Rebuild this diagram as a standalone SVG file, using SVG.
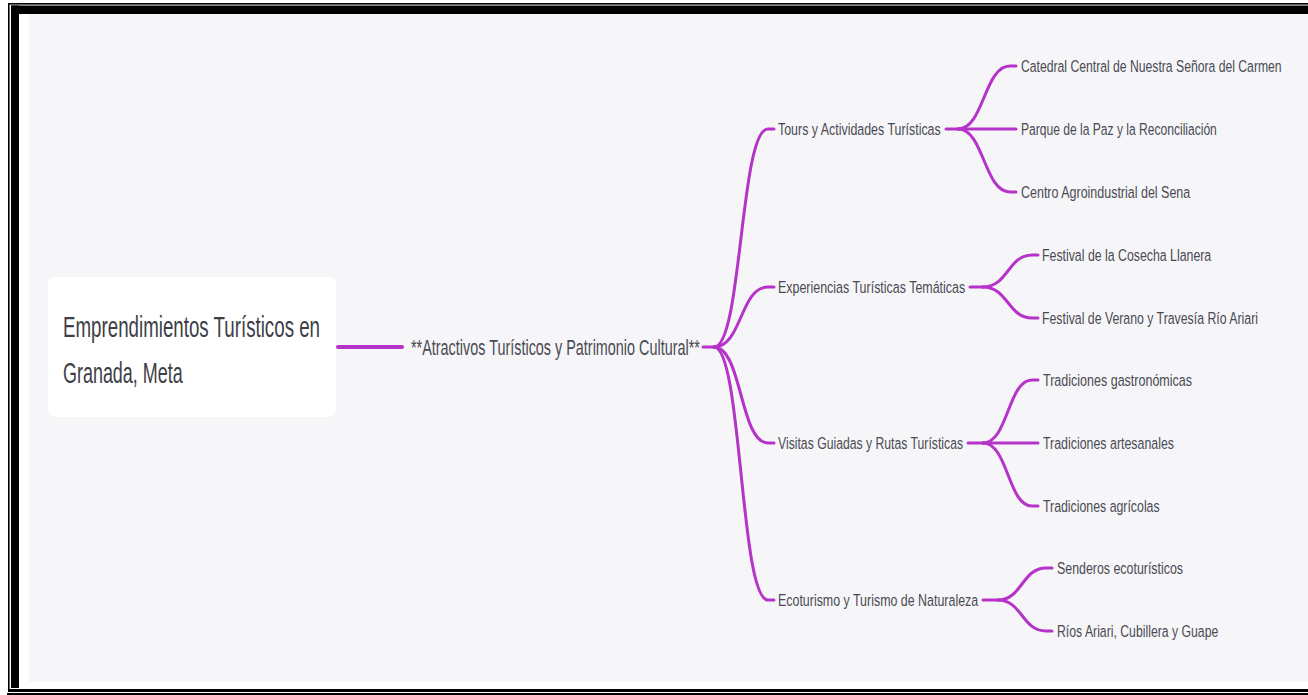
<svg xmlns="http://www.w3.org/2000/svg" width="1308" height="695" viewBox="0 0 1308 695">
<style>
.t{font-family:"Liberation Sans",Arial,sans-serif;fill:#4a4a54}
.root{font-size:29px;fill:#3e3e46}
.l1{font-size:22px}
.l2{font-size:17px}
.l3{font-size:17px}
.c{fill:none;stroke:#b533c8;stroke-width:3;stroke-linecap:round}
</style>
<rect x="0" y="0" width="1308" height="695" fill="#ffffff"/>
<rect x="29" y="14" width="1279" height="668" fill="#f6f6f8"/>
<g id="frame" fill="#000">
<rect x="8" y="3" width="1300" height="1.6"/>
<rect x="8" y="3" width="1.6" height="687"/>
<rect x="11" y="5.5" width="1297" height="8.5"/>
<rect x="11" y="5.5" width="8" height="682.5"/>
<rect x="8" y="689" width="1300" height="3"/>
<rect x="7" y="693" width="1301" height="2"/>
</g>
<g id="connectors" class="c">
<path d="M338 347 H402" stroke-width="4"/>
<path d="M703 347 H714"/>
<path d="M714 347 C742 347 740 129 768 129 H774"/>
<path d="M714 347 C742 347 740 287 768 287 H774"/>
<path d="M714 347 C742 347 740 443 768 443 H774"/>
<path d="M714 347 C742 347 740 600 768 600 H774"/>
<path d="M946 129 H958"/>
<path d="M958 129 C984 129 984 66 1010 66 H1016"/>
<path d="M958 129 H1016"/>
<path d="M958 129 C984 129 984 192 1010 192 H1016"/>
<path d="M970 287 H983"/>
<path d="M983 287 C1008 287 1008 255 1032 255 H1038"/>
<path d="M983 287 C1008 287 1008 318 1032 318 H1038"/>
<path d="M968 443 H983"/>
<path d="M983 443 C1008 443 1008 380 1032 380 H1038"/>
<path d="M983 443 H1038"/>
<path d="M983 443 C1008 443 1008 506 1032 506 H1038"/>
<path d="M983 600 H998"/>
<path d="M998 600 C1022 600 1022 568 1046 568 H1052"/>
<path d="M998 600 C1022 600 1022 631 1046 631 H1052"/>
</g>
<g id="root">
<rect x="48" y="277" width="288" height="140" rx="7" fill="#ffffff"/>
<text class="t root" transform="translate(63,337) scale(0.68,1)" textLength="378" lengthAdjust="spacingAndGlyphs">Emprendimientos Turísticos en</text>
<text class="t root" transform="translate(63,383) scale(0.68,1)" textLength="176" lengthAdjust="spacingAndGlyphs">Granada, Meta</text>
</g>
<g id="n-atractivos">
<text class="t l1" transform="translate(411,355) scale(0.62,1)" textLength="466" lengthAdjust="spacingAndGlyphs">**Atractivos Turísticos y Patrimonio Cultural**</text>
</g>
<g id="n-tours">
<text class="t l2" transform="translate(778,135) scale(0.72,1)" textLength="226" lengthAdjust="spacingAndGlyphs">Tours y Actividades Turísticas</text>
</g>
<g id="n-catedral">
<text class="t l3" transform="translate(1021,72) scale(0.72,1)" textLength="362" lengthAdjust="spacingAndGlyphs">Catedral Central de Nuestra Señora del Carmen</text>
</g>
<g id="n-parque">
<text class="t l3" transform="translate(1021,135) scale(0.72,1)" textLength="272" lengthAdjust="spacingAndGlyphs">Parque de la Paz y la Reconciliación</text>
</g>
<g id="n-centro">
<text class="t l3" transform="translate(1021,198) scale(0.72,1)" textLength="235" lengthAdjust="spacingAndGlyphs">Centro Agroindustrial del Sena</text>
</g>
<g id="n-experiencias">
<text class="t l2" transform="translate(778,293) scale(0.72,1)" textLength="260" lengthAdjust="spacingAndGlyphs">Experiencias Turísticas Temáticas</text>
</g>
<g id="n-cosecha">
<text class="t l3" transform="translate(1042,261) scale(0.72,1)" textLength="235" lengthAdjust="spacingAndGlyphs">Festival de la Cosecha Llanera</text>
</g>
<g id="n-verano">
<text class="t l3" transform="translate(1042,324) scale(0.72,1)" textLength="300" lengthAdjust="spacingAndGlyphs">Festival de Verano y Travesía Río Ariari</text>
</g>
<g id="n-visitas">
<text class="t l2" transform="translate(778,449) scale(0.72,1)" textLength="257" lengthAdjust="spacingAndGlyphs">Visitas Guiadas y Rutas Turísticas</text>
</g>
<g id="n-gastro">
<text class="t l3" transform="translate(1043,386) scale(0.72,1)" textLength="207" lengthAdjust="spacingAndGlyphs">Tradiciones gastronómicas</text>
</g>
<g id="n-artesanales">
<text class="t l3" transform="translate(1043,449) scale(0.72,1)" textLength="182" lengthAdjust="spacingAndGlyphs">Tradiciones artesanales</text>
</g>
<g id="n-agricolas">
<text class="t l3" transform="translate(1043,512) scale(0.72,1)" textLength="162" lengthAdjust="spacingAndGlyphs">Tradiciones agrícolas</text>
</g>
<g id="n-ecoturismo">
<text class="t l2" transform="translate(778,606) scale(0.72,1)" textLength="278" lengthAdjust="spacingAndGlyphs">Ecoturismo y Turismo de Naturaleza</text>
</g>
<g id="n-senderos">
<text class="t l3" transform="translate(1057,574) scale(0.72,1)" textLength="175" lengthAdjust="spacingAndGlyphs">Senderos ecoturísticos</text>
</g>
<g id="n-rios">
<text class="t l3" transform="translate(1057,637) scale(0.72,1)" textLength="224" lengthAdjust="spacingAndGlyphs">Ríos Ariari, Cubillera y Guape</text>
</g>
</svg>
